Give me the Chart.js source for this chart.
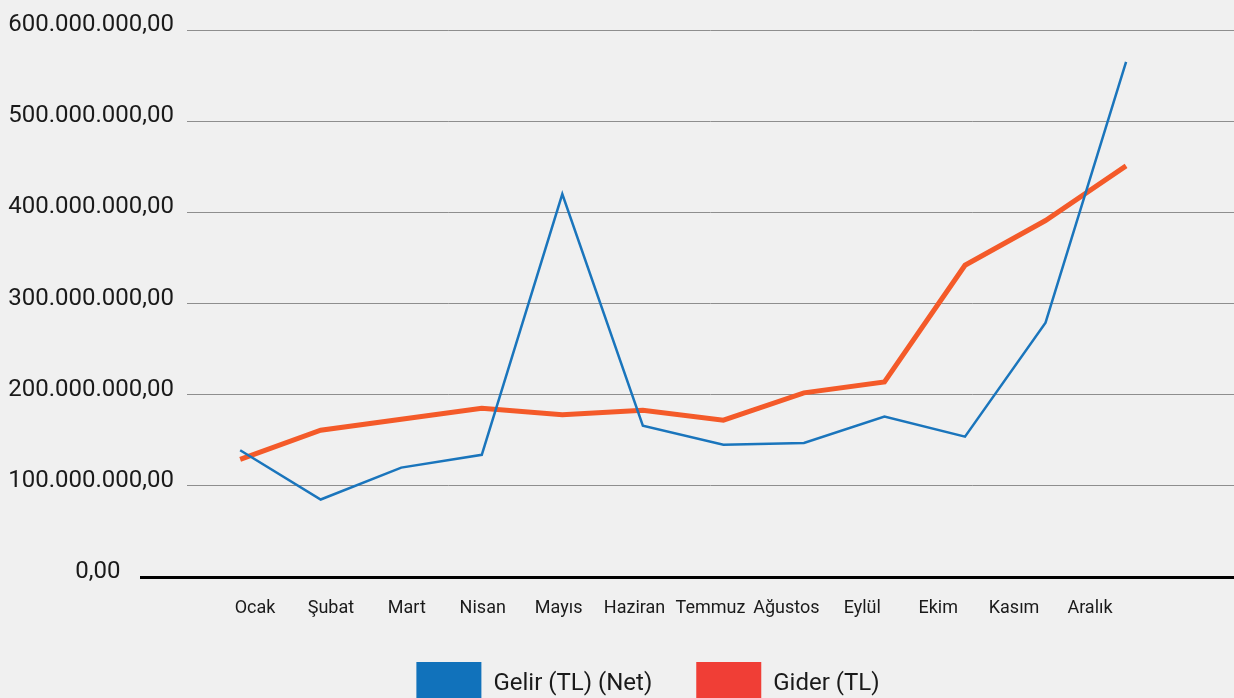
<!DOCTYPE html>
<html>
<head>
<meta charset="utf-8">
<script src="https://cdn.jsdelivr.net/npm/chart.js@4/dist/chart.umd.min.js"></script>
<style>
  html, body { margin: 0; padding: 0; background: #f0f0f0; overflow: hidden; }
  #wrap { width: 1234px; height: 716px; }
</style>
</head>
<body>
<div id="wrap"><canvas id="c" width="1234" height="716"></canvas></div>
<script>
// ---- Data ----
const months = ['Ocak', 'Şubat', 'Mart', 'Nisan', 'Mayıs', 'Haziran', 'Temmuz', 'Ağustos', 'Eylül', 'Ekim', 'Kasım', 'Aralık'];
const gelir = [139e6, 85e6, 120e6, 134e6, 420e6, 166e6, 145e6, 147e6, 176e6, 154e6, 279e6, 565e6];
const gider = [129e6, 161e6, 173e6, 185e6, 178e6, 183e6, 172e6, 202e6, 214e6, 342e6, 391e6, 451e6];
const yTicks = [0, 100e6, 200e6, 300e6, 400e6, 500e6, 600e6];
const seriesNames = ['Gelir (TL) (Net)', 'Gider (TL)'];

function fmtTR(v) {
  const s = Math.round(v).toString().replace(/\B(?=(\d{3})+(?!\d))/g, '.') + ',00';
  return v === 0 ? s + '\u00a0'.repeat(9) : s;
}

const FONT = 'Roboto';
const Y_FONT_SIZE = 24;
// width of the widest y label, so right-aligned mirrored labels end just left of the plot
const mctx = document.createElement('canvas').getContext('2d');
mctx.font = Y_FONT_SIZE + 'px ' + FONT;
const widestY = Math.max(...yTicks.map(v => mctx.measureText(fmtTR(v)).width));

new Chart(document.getElementById('c'), {
  type: 'line',
  data: {
    datasets: [
      {
        label: seriesNames[0],
        data: gelir.map((v, i) => ({ x: i, y: v })),
        borderColor: '#1a75bc',
        backgroundColor: '#1172bb',
        borderWidth: 2.5,
        pointRadius: 0,
        tension: 0,
        xAxisID: 'x',
        yAxisID: 'y'
      },
      {
        label: seriesNames[1],
        data: gider.map((v, i) => ({ x: i, y: v })),
        borderColor: '#f45a29',
        backgroundColor: '#f03e36',
        borderWidth: 5,
        pointRadius: 0,
        tension: 0,
        xAxisID: 'x',
        yAxisID: 'y'
      }
    ]
  },
  options: {
    responsive: false,
    animation: false,
    devicePixelRatio: 1,
    layout: { padding: { left: 62, right: 0, top: 30, bottom: 0 } },
    scales: {
      x: {
        type: 'linear',
        display: false,
        min: -0.66,
        max: 12.34
      },
      xl: {
        type: 'linear',
        position: 'bottom',
        min: -0.896,
        max: 12.897,
        afterBuildTicks: (scale) => { scale.ticks = months.map((m, i) => ({ value: i })); },
        afterFit: (scale) => { scale.height = 41; },
        grid: { display: false, drawTicks: false },
        border: { display: false },
        ticks: {
          autoSkip: false,
          maxRotation: 0,
          padding: 21,
          color: '#1a1a1a',
          font: { family: FONT, size: 18 },
          callback: (v) => months[v] ?? ''
        }
      },
      y: {
        type: 'linear',
        min: 0,
        max: 600e6,
        afterBuildTicks: (scale) => { scale.ticks = yTicks.map(v => ({ value: v })); },
        afterFit: (scale) => { scale.width = 125; },
        border: { display: false },
        grid: {
          color: (ctx) => ctx.tick && ctx.tick.value === 0 ? '#000000' : '#8e8e8e',
          lineWidth: (ctx) => ctx.tick && ctx.tick.value === 0 ? 3 : 1,
          tickColor: (ctx) => ctx.tick && ctx.tick.value === 0 ? '#000000' : 'rgba(0,0,0,0)',
          tickWidth: (ctx) => ctx.tick && ctx.tick.value === 0 ? 3 : 1,
          tickLength: 47,
          drawTicks: true
        },
        ticks: {
          mirror: true,
          crossAlign: 'far',
          padding: -13 - widestY,
          labelOffset: -5,
          color: '#1a1a1a',
          font: { family: FONT, size: Y_FONT_SIZE },
          callback: (v) => fmtTR(v)
        }
      }
    },
    plugins: {
      tooltip: { enabled: false },
      legend: {
        position: 'bottom',
        align: 'center',
        labels: {
          boxWidth: 65,
          boxHeight: 44,
          padding: 44,
          color: '#1a1a1a',
          font: { family: FONT, size: 24 },
          generateLabels: (chart) => Chart.defaults.plugins.legend.labels.generateLabels(chart)
            .map(l => Object.assign({}, l, { lineWidth: 0, strokeStyle: 'rgba(0,0,0,0)' }))
        }
      }
    }
  }
});
</script>
</body>
</html>
